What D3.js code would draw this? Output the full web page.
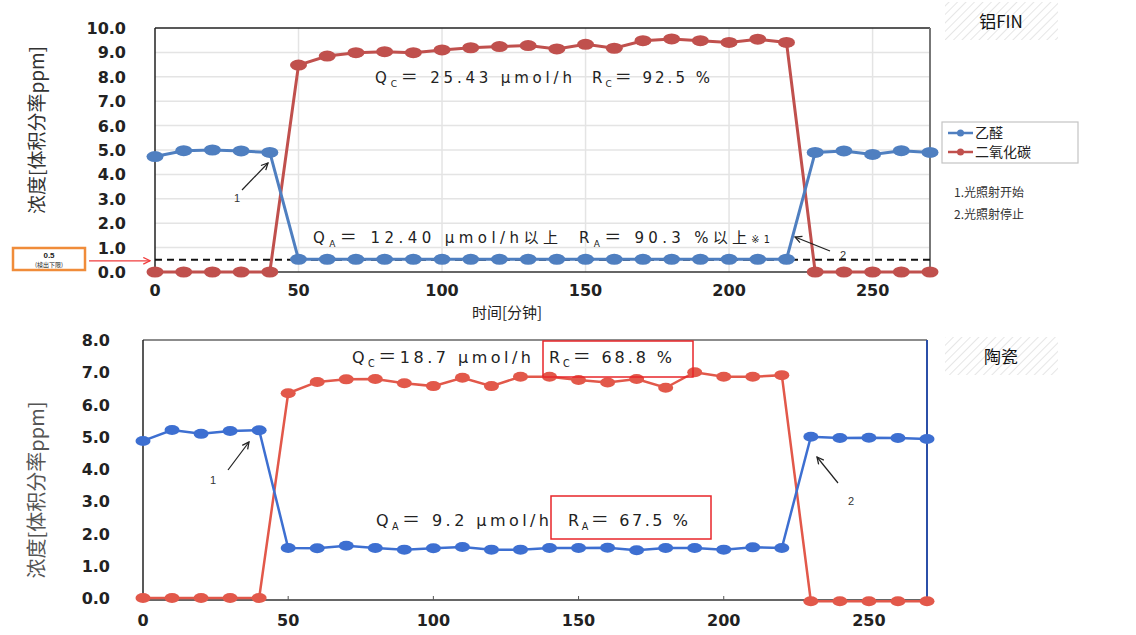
<!DOCTYPE html>
<html>
<head>
<meta charset="utf-8">
<script src="https://cdn.jsdelivr.net/npm/d3@7"></script>
<style>
  body { margin: 0; background: #fff; }
  text { font-family: "Liberation Sans", Arial, sans-serif; }
  .cjk { font-family: "Noto Sans CJK SC", "Noto Sans", sans-serif; }
  .note { font-family: "DejaVu Sans", sans-serif; }
  .tick-lbl { font-family: "DejaVu Sans", sans-serif; font-weight: bold; fill: #222; }
</style>
</head>
<body>
<div id="chart"></div>
<script>
// time in minutes, one reading every 10 min
const time = d3.range(0, 271, 10);

// top panel: 铝FIN
const finAcetaldehyde = [4.73, 4.97, 5.0, 4.96, 4.9, 0.52, 0.52, 0.52, 0.52, 0.52, 0.52, 0.52, 0.52, 0.52,
  0.52, 0.52, 0.52, 0.52, 0.52, 0.52, 0.52, 0.52, 0.52, 4.9, 4.96, 4.82, 4.97, 4.9];
const finCO2 = [0, 0, 0, 0, 0, 8.48, 8.85, 8.99, 9.03, 8.99, 9.1, 9.19, 9.24, 9.28,
  9.14, 9.33, 9.17, 9.48, 9.55, 9.48, 9.41, 9.54, 9.41, 0, 0, 0, 0, 0];

// bottom panel: 陶瓷
const cerAcetaldehyde = [4.87, 5.21, 5.09, 5.18, 5.2, 1.55, 1.54, 1.62, 1.55, 1.5, 1.54, 1.58, 1.5, 1.5,
  1.55, 1.55, 1.56, 1.48, 1.55, 1.55, 1.5, 1.57, 1.55, 5.0, 4.96, 4.97, 4.96, 4.93];
const cerCO2 = [0, 0, 0, 0, 0, 6.35, 6.7, 6.78, 6.79, 6.66, 6.57, 6.83, 6.57, 6.86,
  6.86, 6.76, 6.68, 6.79, 6.52, 7.0, 6.86, 6.86, 6.91, -0.1, -0.1, -0.1, -0.1, -0.1];

const xTicks = [0, 50, 100, 150, 200, 250];
const finYTicks = d3.range(0, 10.01, 1);
const cerYTicks = d3.range(0, 8.01, 1);
const seriesNames = ["乙醛", "二氧化碳"];
const notes = ["1.光照射开始", "2.光照射停止"];
const detectLimit = 0.5;

const svg = d3.select("#chart").append("svg")
  .attr("width", 1136)
  .attr("height", 635);

const defs = svg.append("defs");
const hatch = defs.append("pattern")
  .attr("id", "hatch")
  .attr("patternUnits", "userSpaceOnUse")
  .attr("width", 6).attr("height", 6)
  .attr("patternTransform", "rotate(45)");
hatch.append("rect").attr("width", 6).attr("height", 6).attr("fill", "#fff");
hatch.append("line").attr("x1", 0).attr("y1", 0).attr("x2", 0).attr("y2", 6)
  .attr("stroke", "#e6e6e6").attr("stroke-width", 2);

function arrowHead(id, color) {
  defs.append("marker")
    .attr("id", id)
    .attr("viewBox", "0 0 10 10")
    .attr("refX", 9).attr("refY", 5)
    .attr("markerWidth", 7).attr("markerHeight", 7)
    .attr("orient", "auto")
    .append("path")
    .attr("d", "M1,1 L9,5 L1,9")
    .attr("fill", "none")
    .attr("stroke", color)
    .attr("stroke-width", 1.5);
}
arrowHead("arrBlack", "#222");
arrowHead("arrRed", "#f03c3c");

// text with a subscript letter, e.g. Q_C; stretched to the width it has in the source
function subText(g, x, y, width, letter, sub, rest, size, extra) {
  const t = g.append("text")
    .attr("class", "note")
    .attr("x", x).attr("y", y)
    .attr("font-size", size)
    .attr("fill", "#222")
    .attr("textLength", width)
    .attr("lengthAdjust", "spacing");
  t.append("tspan").text(letter);
  t.append("tspan").text(sub).attr("font-size", size * 0.6).attr("dy", 4);
  t.append("tspan").attr("class", "cjk").attr("font-size", size + 2).attr("dy", -4).text("＝");
  t.append("tspan").text(rest);
  if (extra) {
    t.append("tspan").attr("class", "cjk").text("以上");
    if (extra === 2) t.append("tspan").attr("font-size", size * 0.65).text("※1");
  }
  return t;
}

function drawPanel(cfg) {
  const g = svg.append("g");
  const x = d3.scaleLinear().domain([0, 270]).range(cfg.xRange);
  const y = d3.scaleLinear().domain(cfg.yDomain).range(cfg.yRange);
  const [x0, x1] = cfg.xRange;
  const [yb, yt] = cfg.yRange;

  if (cfg.grid) {
    g.append("g").selectAll("line")
      .data(cfg.yTicks.slice(1, -1))
      .join("line")
      .attr("x1", x0).attr("x2", x1)
      .attr("y1", d => y(d)).attr("y2", d => y(d))
      .attr("stroke", "#e4e4e4").attr("stroke-width", 1.5);
    g.append("g").selectAll("line")
      .data(xTicks.slice(1))
      .join("line")
      .attr("x1", d => x(d)).attr("x2", d => x(d))
      .attr("y1", yb).attr("y2", yt)
      .attr("stroke", "#e4e4e4").attr("stroke-width", 1.5);
  }

  // frame
  g.append("line").attr("x1", x0).attr("x2", x1).attr("y1", yt).attr("y2", yt)
    .attr("stroke", cfg.topColor).attr("stroke-width", 1.5);
  g.append("line").attr("x1", x1).attr("x2", x1).attr("y1", yt).attr("y2", cfg.bottomLine)
    .attr("stroke", cfg.rightColor).attr("stroke-width", 2);
  g.append("line").attr("x1", x0).attr("x2", x0).attr("y1", yt).attr("y2", cfg.bottomLine)
    .attr("stroke", "#222").attr("stroke-width", 1.5);
  g.append("line").attr("x1", x0).attr("x2", x1).attr("y1", cfg.bottomLine).attr("y2", cfg.bottomLine)
    .attr("stroke", "#333").attr("stroke-width", 1.5);

  if (cfg.innerTicks) {
    g.append("g").selectAll("line")
      .data(xTicks.slice(1, -1))
      .join("line")
      .attr("x1", d => x(d)).attr("x2", d => x(d))
      .attr("y1", cfg.bottomLine).attr("y2", cfg.bottomLine - 4)
      .attr("stroke", "#555");
  }

  // tick labels
  g.append("g").selectAll("text")
    .data(cfg.yTicks)
    .join("text")
    .attr("class", "tick-lbl")
    .attr("x", cfg.yLabelX)
    .attr("y", d => y(d) + 6)
    .attr("text-anchor", "end")
    .attr("font-size", cfg.tickSize)
    .text(d3.format(".1f"));
  g.append("g").selectAll("text")
    .data(xTicks)
    .join("text")
    .attr("class", "tick-lbl")
    .attr("x", d => x(d))
    .attr("y", cfg.xLabelY)
    .attr("text-anchor", "middle")
    .attr("font-size", cfg.tickSize)
    .text(d => d);

  // y axis title
  g.append("text")
    .attr("class", "cjk")
    .attr("transform", `translate(${cfg.yTitle[0]},${cfg.yTitle[1]}) rotate(-90)`)
    .attr("text-anchor", "middle")
    .attr("font-size", cfg.yTitleSize)
    .attr("fill", cfg.yTitleColor)
    .text("浓度[体积分率ppm]");

  if (cfg.detect) {
    g.append("line")
      .attr("x1", x0).attr("x2", x1)
      .attr("y1", y(detectLimit)).attr("y2", y(detectLimit))
      .attr("stroke", "#111").attr("stroke-width", 2)
      .attr("stroke-dasharray", "7,5");
  }

  const line = d3.line().x((d, i) => x(time[i])).y(d => y(d));
  const series = [
    { values: cfg.co2, color: cfg.red },
    { values: cfg.acet, color: cfg.blue }
  ];
  series.forEach(s => {
    g.append("path")
      .datum(s.values)
      .attr("d", line)
      .attr("fill", "none")
      .attr("stroke", s.color)
      .attr("stroke-width", cfg.lineWidth);
    g.append("g").selectAll("ellipse")
      .data(s.values)
      .join("ellipse")
      .attr("cx", (d, i) => x(time[i]))
      .attr("cy", d => y(d))
      .attr("rx", cfg.rx).attr("ry", cfg.ry)
      .attr("fill", s.color);
  });

  // arrows for light on / off
  cfg.arrows.forEach(a => {
    g.append("line")
      .attr("x1", a.from[0]).attr("y1", a.from[1])
      .attr("x2", a.to[0]).attr("y2", a.to[1])
      .attr("stroke", "#222").attr("stroke-width", 1.2)
      .attr("marker-end", "url(#arrBlack)");
    g.append("text")
      .attr("x", a.lbl[0]).attr("y", a.lbl[1])
      .attr("font-family", "DejaVu Serif")
      .attr("font-size", 11)
      .attr("fill", "#333")
      .text(a.text);
  });

  // title tag
  g.append("rect")
    .attr("x", 945).attr("y", cfg.tagY)
    .attr("width", 113).attr("height", 38)
    .attr("fill", "url(#hatch)");
  g.append("text")
    .attr("class", "cjk")
    .attr("x", 1001).attr("y", cfg.tagY + 26)
    .attr("text-anchor", "middle")
    .attr("font-size", 17)
    .attr("fill", "#111")
    .text(cfg.tag);

  return { g, x, y };
}

// ---- top panel
const topPanel = drawPanel({
  xRange: [155, 930], yDomain: [0, 10], yRange: [272, 28], bottomLine: 272,
  yTicks: finYTicks, grid: true, innerTicks: false,
  topColor: "#222", rightColor: "#777",
  yLabelX: 126, xLabelY: 296, tickSize: 16,
  yTitle: [44, 130], yTitleSize: 19, yTitleColor: "#333",
  detect: true,
  acet: finAcetaldehyde, co2: finCO2,
  blue: "#4f7fc0", red: "#c0504d", lineWidth: 3, rx: 8.5, ry: 5.5,
  arrows: [
    { from: [242, 190], to: [268, 163], lbl: [234, 202], text: "1" },
    { from: [830, 251], to: [795, 237], lbl: [840, 259], text: "2" }
  ],
  tag: "铝FIN", tagY: 2
});

topPanel.g.append("text")
  .attr("class", "cjk")
  .attr("x", 507).attr("y", 318)
  .attr("text-anchor", "middle")
  .attr("font-size", 15)
  .attr("fill", "#222")
  .text("时间[分钟]");

subText(topPanel.g, 375, 83, 197, "Q", "C", "  25.43 μmol/h", 15);
subText(topPanel.g, 592, 83, 118, "R", "C", "  92.5 %", 15);
subText(topPanel.g, 313, 243, 245, "Q", "A", "  12.40 μmol/h", 15, 1);
subText(topPanel.g, 579, 243, 191, "R", "A", "  90.3 %", 15, 2);

// detection limit tag
topPanel.g.append("rect")
  .attr("x", 13).attr("y", 248).attr("width", 72).attr("height", 22)
  .attr("fill", "#fff").attr("stroke", "#f08c3a").attr("stroke-width", 2.5);
topPanel.g.append("text")
  .attr("x", 49).attr("y", 258).attr("text-anchor", "middle")
  .attr("font-size", 8).attr("font-weight", "bold").attr("fill", "#222")
  .text(detectLimit);
topPanel.g.append("text")
  .attr("class", "cjk")
  .attr("x", 49).attr("y", 267).attr("text-anchor", "middle")
  .attr("font-size", 6).attr("fill", "#222")
  .text("(検出下限)");
topPanel.g.append("line")
  .attr("x1", 89).attr("x2", 150)
  .attr("y1", topPanel.y(detectLimit) + 1).attr("y2", topPanel.y(detectLimit) + 1)
  .attr("stroke", "#f03c3c").attr("stroke-width", 1.2)
  .attr("marker-end", "url(#arrRed)");

// legend
const leg = topPanel.g.append("g");
leg.append("rect")
  .attr("x", 942).attr("y", 122).attr("width", 136).attr("height", 41)
  .attr("fill", "#fff").attr("stroke", "#c4c4c4").attr("stroke-width", 1.2);
[["#4f7fc0", 133], ["#c0504d", 152]].forEach((c, i) => {
  leg.append("line")
    .attr("x1", 948).attr("x2", 973).attr("y1", c[1]).attr("y2", c[1])
    .attr("stroke", c[0]).attr("stroke-width", 2.5);
  leg.append("circle").attr("cx", 960.5).attr("cy", c[1]).attr("r", 3.5).attr("fill", c[0]);
  leg.append("text")
    .attr("class", "cjk")
    .attr("x", 975).attr("y", c[1] + 5)
    .attr("font-size", 14).attr("fill", "#222")
    .text(seriesNames[i]);
});
notes.forEach((n, i) => {
  topPanel.g.append("text")
    .attr("class", "cjk")
    .attr("x", 954).attr("y", 197 + i * 22)
    .attr("font-size", 12).attr("fill", "#333")
    .text(n);
});

// ---- bottom panel
const bottomPanel = drawPanel({
  xRange: [143, 927], yDomain: [0, 8], yRange: [598, 340], bottomLine: 600,
  yTicks: cerYTicks, grid: false, innerTicks: true,
  topColor: "#666", rightColor: "#2b4fa8",
  yLabelX: 110, xLabelY: 626, tickSize: 16,
  yTitle: [44, 490], yTitleSize: 20, yTitleColor: "#555",
  detect: false,
  acet: cerAcetaldehyde, co2: cerCO2,
  blue: "#3d6fd1", red: "#e2584a", lineWidth: 2.5, rx: 7.5, ry: 5,
  arrows: [
    { from: [228, 470], to: [249, 442], lbl: [210, 484], text: "1" },
    { from: [838, 483], to: [817, 457], lbl: [848, 505], text: "2" }
  ],
  tag: "陶瓷", tagY: 337
});

subText(bottomPanel.g, 352, 363, 179, "Q", "C", "18.7 μmol/h", 16);
subText(bottomPanel.g, 549, 363, 123, "R", "C", "  68.8 %", 16);
subText(bottomPanel.g, 376, 526, 173, "Q", "A", "  9.2 μmol/h", 16);
subText(bottomPanel.g, 568, 526, 120, "R", "A", "  67.5 %", 16);

[[543, 341, 150, 36], [551, 496, 160, 43]].forEach(b => {
  bottomPanel.g.append("rect")
    .attr("x", b[0]).attr("y", b[1]).attr("width", b[2]).attr("height", b[3])
    .attr("fill", "none").attr("stroke", "#e8262a").attr("stroke-width", 1.5);
});
</script>
</body>
</html>
